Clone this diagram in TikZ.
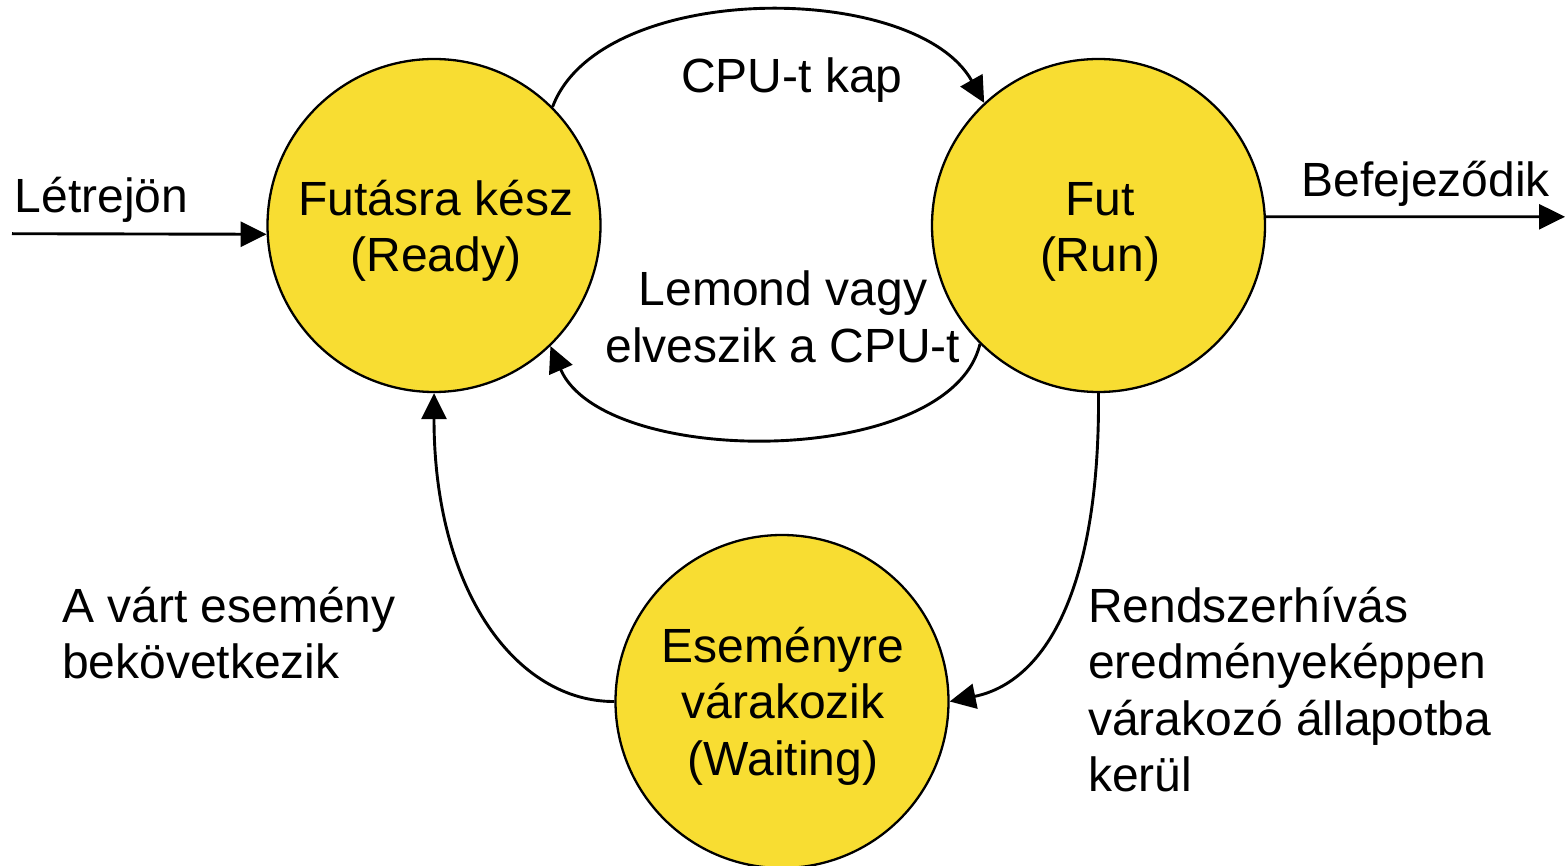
\documentclass[tikz,border=0pt]{standalone}
\usepackage{fontspec}
\setmainfont{Liberation Sans}
\usetikzlibrary{arrows.meta}
\definecolor{stateyellow}{HTML}{F8DD32}
\begin{document}
\begin{tikzpicture}[x=1pt,y=-1pt,
  state/.style={circle, draw=black, line width=2.3pt, fill=stateyellow,
    minimum size=333pt, inner sep=0pt},
  lbl/.style={inner sep=0pt, font=\fontsize{48}{56.5}\selectfont},
  conn/.style={line width=2.9pt, -{Triangle[length=26pt,width=25pt]}},
]
\clip (0,0) rectangle (1566,866);

% process states
\node[state] (ready) at (434,225.5) {};
\node[state] (run)   at (1098.5,225.5) {};
\node[state] (wait)  at (782,701.5) {};

% state names
\node[lbl, anchor=north, align=center] (readyL) at (436,175.45)
  {\strut Futásra kész\\\strut (Ready)};
\node[lbl, anchor=north, align=center] (runL) at (1100,175.45)
  {\strut Fut\\\strut (Run)};
\node[lbl, anchor=north, align=center] (waitL) at (783,622.45)
  {\strut Eseményre\\\strut várakozik\\\strut (Waiting)};

% transition labels
\node[lbl, anchor=base west] (newL) at (14.5,213) {Létrejön};
\node[lbl, anchor=base west] (endL) at (1301.5,197) {Befejeződik};
\node[lbl, anchor=base] (cpuL) at (792,93) {CPU-t kap};
\node[lbl, anchor=north, align=center] (giveL) at (783,265.95)
  {\strut Lemond vagy\\\strut elveszik a CPU-t};
\node[lbl, anchor=north west, align=left] (evL) at (62,582.45)
  {\strut A várt esemény\\\strut bekövetkezik};
\node[lbl, anchor=north west, align=left] (sysL) at (1088,582.45)
  {\strut Rendszerhívás\\\strut eredményeképpen\\\strut várakozó állapotba\\\strut kerül};

% transitions
\coordinate (src)  at (12,233.7);
\coordinate (sink) at (1565,216.8);
\draw[conn] (src) -- (ready.183);
\draw[conn] (run.3) -- (sink);
\draw[conn] (ready.45) .. controls (600,-20) and (915,-20) .. (run.133);
\draw[conn] (run.225) .. controls (950,469) and (604,469) .. (ready.314);
\draw[conn] (run.south) .. controls (1100,590) and (1045,682) .. (wait.east);
\draw[conn] (wait.west) .. controls (517,702) and (434,592) .. (ready.south);
\end{tikzpicture}
\end{document}
